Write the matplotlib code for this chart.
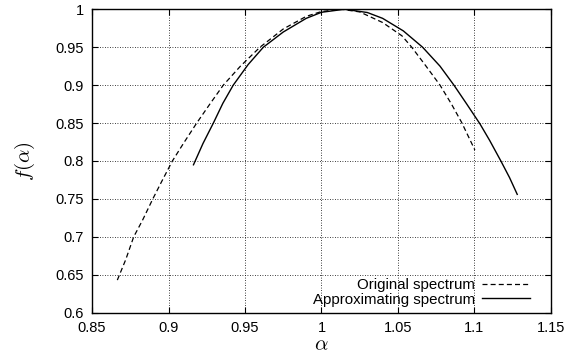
import matplotlib
matplotlib.use("Agg")
import matplotlib.pyplot as plt

# values
orig_alpha = [0.8665, 0.872, 0.8772, 0.883, 0.8897, 0.895, 0.9025, 0.91, 0.9184,
              0.927, 0.9358, 0.947, 0.9598, 0.975, 0.99, 1.0, 1.013, 1.025, 1.04,
              1.0526, 1.059, 1.068, 1.0775, 1.085, 1.0916, 1.1003]
orig_f = [0.643, 0.670, 0.70, 0.722, 0.75, 0.771, 0.80, 0.824, 0.85,
          0.875, 0.90, 0.925, 0.95, 0.974, 0.9906, 0.997, 1.0, 0.9965, 0.9825,
          0.965, 0.95, 0.926, 0.90, 0.875, 0.851, 0.8145]

approx_alpha = [0.9163, 0.9225, 0.9293, 0.9355, 0.9423, 0.952, 0.962, 0.975, 0.99, 1.0,
                1.015, 1.03, 1.04, 1.0535, 1.0661, 1.0775, 1.0866, 1.095, 1.1036, 1.11,
                1.1173, 1.123, 1.128]
approx_f = [0.795, 0.823, 0.85, 0.876, 0.90, 0.927, 0.95, 0.970, 0.988, 0.996,
            1.0, 0.9957, 0.988, 0.9715, 0.95, 0.925, 0.90, 0.875, 0.849, 0.827,
            0.80, 0.778, 0.756]

xticks = [0.85, 0.9, 0.95, 1, 1.05, 1.1, 1.15]
xticklabels = ["0.85", "0.9", "0.95", "1", "1.05", "1.1", "1.15"]
yticks = [0.6, 0.65, 0.7, 0.75, 0.8, 0.85, 0.9, 0.95, 1]
yticklabels = ["0.6", "0.65", "0.7", "0.75", "0.8", "0.85", "0.9", "0.95", "1"]

plt.rcParams["font.family"] = ["Liberation Sans", "DejaVu Sans"]
plt.rcParams["mathtext.fontset"] = "cm"

fig = plt.figure(figsize=(5.65, 3.56), dpi=100)
ax = fig.add_axes([0.163, 0.1216, 0.812, 0.8524])

ax.plot(orig_alpha, orig_f, color="black", lw=0.9, ls=(0, (4, 2.5)), label="Original spectrum")
ax.plot(approx_alpha, approx_f, color="black", lw=1.0, label="Approximating spectrum")

ax.set_xlim(0.85, 1.15)
ax.set_ylim(0.6, 1.0)
ax.set_xticks(xticks)
ax.set_xticklabels(xticklabels)
ax.set_yticks(yticks)
ax.set_yticklabels(yticklabels)
ax.tick_params(direction="in", top=True, right=True, length=4, width=0.8,
               labelsize=10.5, pad=6)
ax.grid(True, color="black", ls=(0, (1, 2)), lw=0.6)
for s in ax.spines.values():
    s.set_linewidth(1.0)

ax.set_xlabel(r"$\alpha$", fontsize=15, labelpad=0)
ax.set_ylabel(r"$f(\alpha)$", fontsize=15, labelpad=13)

ax.legend(loc="lower right", bbox_to_anchor=(0.975, -0.01), frameon=False,
          markerfirst=False, fontsize=10.8, handlelength=3.2, labelspacing=0.05,
          borderaxespad=0.2, handletextpad=0.5)

fig.savefig("out.png", dpi=100)
